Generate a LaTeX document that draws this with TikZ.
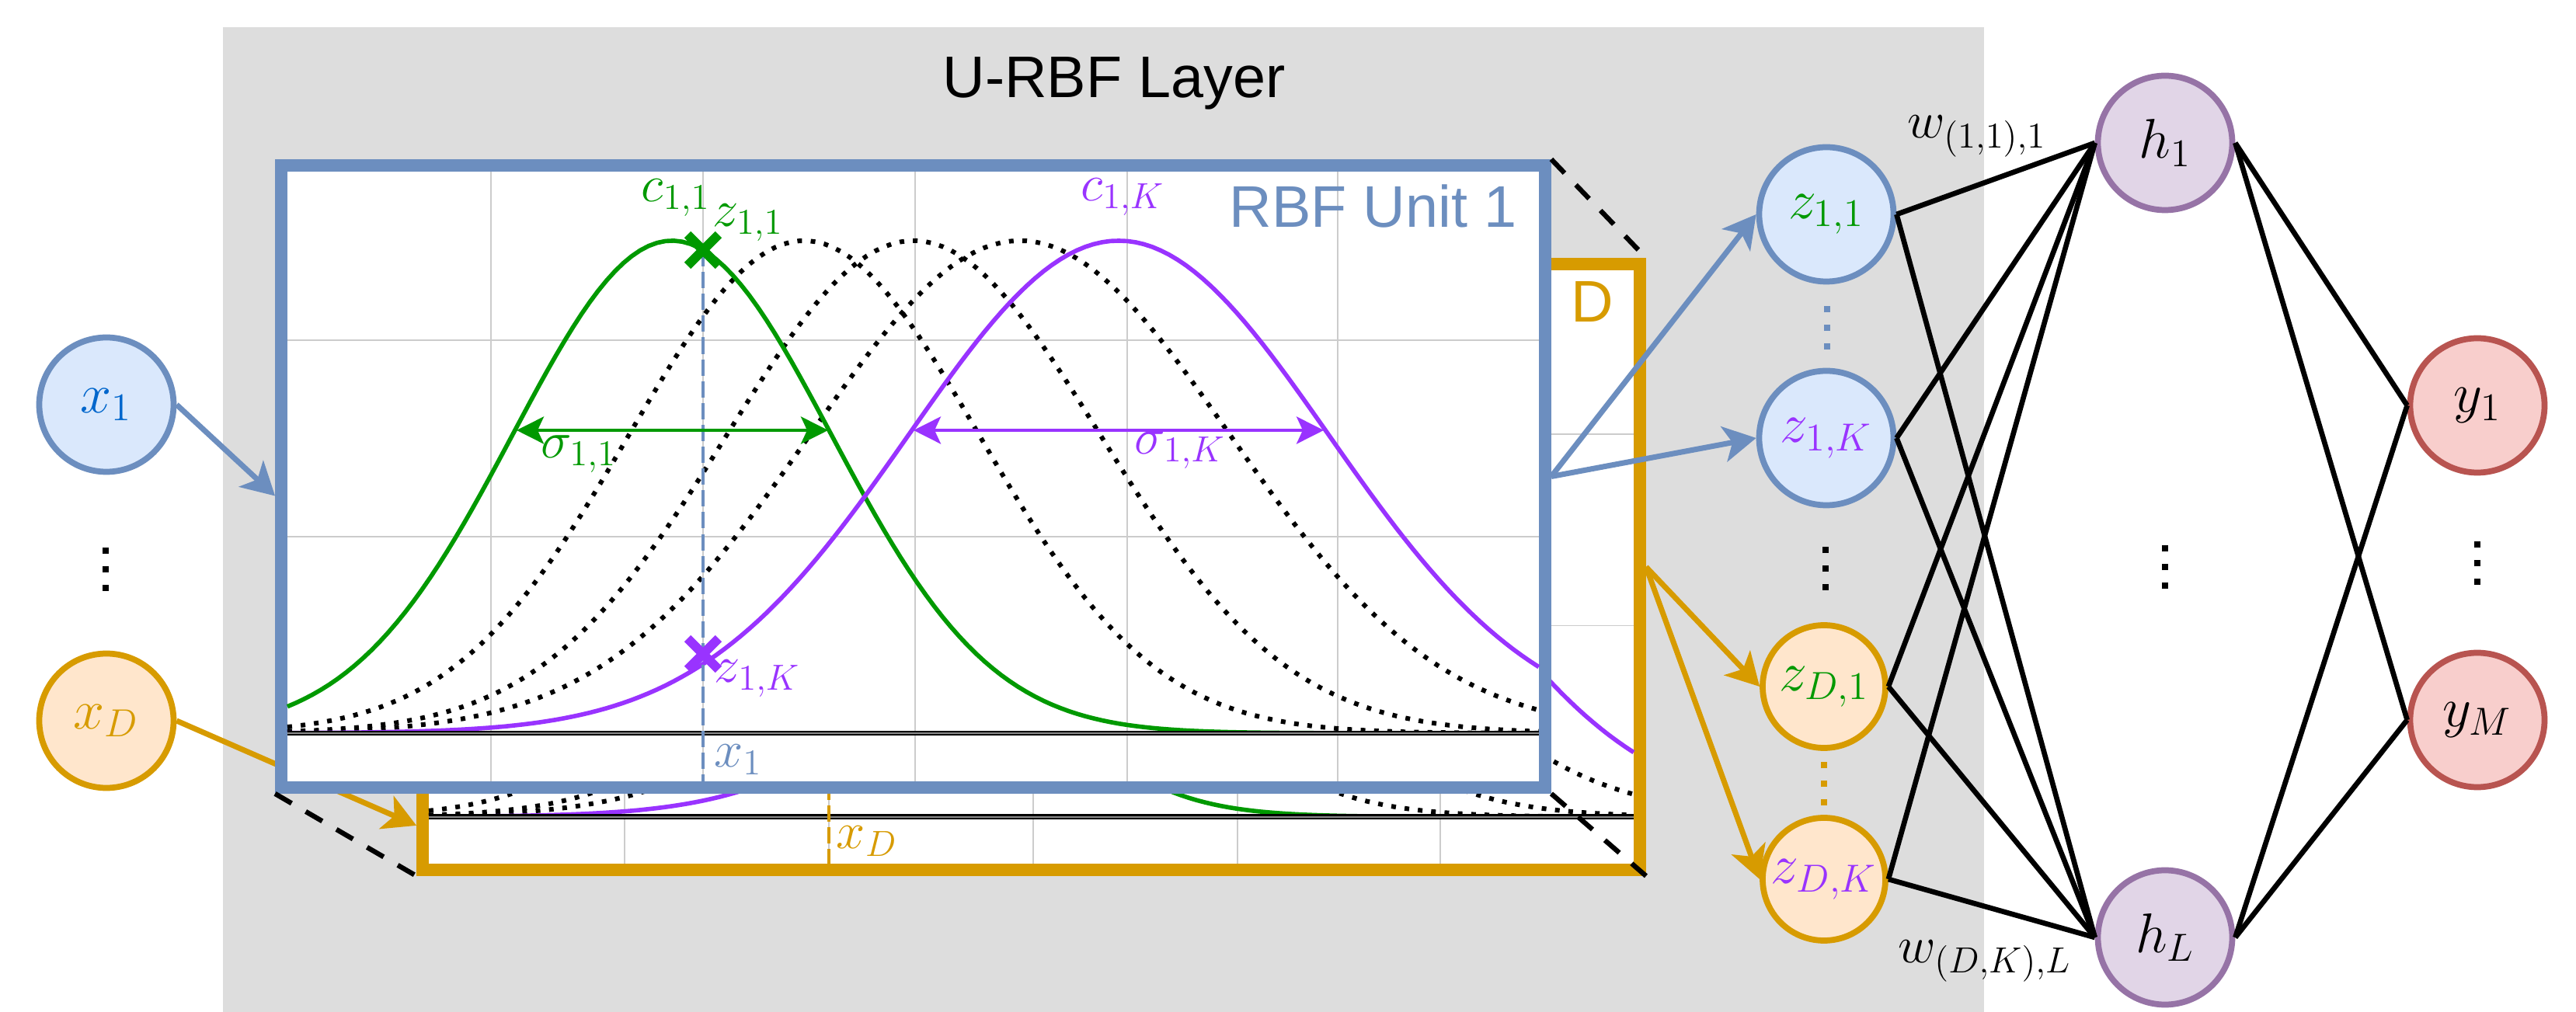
\RequirePackage{fix-cm}
\documentclass[tikz,border=0pt]{standalone}
\usepackage{fontspec}
\newfontfamily\arialfont{Liberation Sans}
\usepackage{tikz}
\usetikzlibrary{arrows.meta,positioning,shapes.misc}
\definecolor{greybg}{HTML}{DDDDDD}
\definecolor{unitblue}{HTML}{6C8EBF}
\definecolor{unitfill}{HTML}{DAE8FC}
\definecolor{dimorange}{HTML}{D79B00}
\definecolor{dimfill}{HTML}{FFE6CC}
\definecolor{hidpurple}{HTML}{9673A6}
\definecolor{hidfill}{HTML}{E1D5E7}
\definecolor{outred}{HTML}{B85450}
\definecolor{outfill}{HTML}{F8CECC}
\definecolor{cgreen}{HTML}{009900}
\definecolor{cpurple}{HTML}{9933FF}
\definecolor{xblue}{HTML}{0066CC}
\newcommand{\vdotsq}{\vbox{\offinterlineskip\hbox{\rule{2.3pt}{2.3pt}}\kern4.5pt\hbox{\rule{2.3pt}{2.3pt}}\kern4.5pt\hbox{\rule{2.3pt}{2.3pt}}}}
\newcommand{\rbfcurves}{%
  \foreach \gx in {6.32,9.05,11.78,14.51,17.22}
    \draw[gridline] (\gx,-2.21) -- (\gx,-10.06);
  \foreach \gy in {-4.38,-6.91}
    \draw[gridline] (3.70,\gy) -- (19.81,\gy);
  \foreach \cen/\wid in {10.35/2.25,11.76/2.4,13.13/2.7}
    \draw[dotcurve] plot[domain=3.70:19.81, samples=150] (\x, {-9.44+6.34*exp(-(\x-\cen)*(\x-\cen)/(2*\wid*\wid))});
  \draw[greencurve] plot[domain=3.70:19.81, samples=150] (\x, {-9.44+6.34*exp(-(\x-8.65)*(\x-8.65)/(2*2.05*2.05))});
  \draw[purplecurve] plot[domain=3.70:19.81, samples=150] (\x, {-9.44+6.34*exp(-(\x-14.40)*(\x-14.40)/(2*2.7*2.7))});
  \draw[axisline] (3.70,-9.44) -- (19.81,-9.44);
}
\begin{document}
\begin{tikzpicture}[
  font=\fontsize{20.5}{24}\selectfont,
  neuron/.style={circle, line width=2.2pt, minimum size=1.73cm, inner sep=0pt},
  inblue/.style={neuron, draw=unitblue, fill=unitfill},
  inorange/.style={neuron, draw=dimorange, fill=dimfill},
  zsmall/.style={inorange, minimum size=1.58cm},
  hidnode/.style={neuron, draw=hidpurple, fill=hidfill},
  outnode/.style={neuron, draw=outred, fill=outfill},
  dotsnode/.style={inner sep=0pt},
  unitframe/.style={draw=unitblue, line width=4.5pt, fill=white, minimum width=16.27cm, minimum height=8.01cm, inner sep=0pt},
  dimframe/.style={draw=dimorange, line width=4.5pt, fill=white, minimum width=15.67cm, minimum height=7.80cm, inner sep=0pt},
  sanslab/.style={font=\arialfont\fontsize{21.5}{26}\selectfont, inner sep=0pt},
  plotlab/.style={font=\fontsize{19}{22}\selectfont, inner sep=0pt},
  gridline/.style={line width=0.5pt, draw=black!20},
  dotcurve/.style={line width=1.7pt, dash pattern=on 1.7pt off 3.2pt},
  greencurve/.style={line width=1.6pt, draw=cgreen},
  purplecurve/.style={line width=1.6pt, draw=cpurple},
  axisline/.style={line width=0.6pt, draw=black, double=black!45, double distance=0.6pt},
  xdash/.style={line width=1.2pt, dash pattern=on 6pt off 2pt},
  cornerdash/.style={line width=1.8pt, dash pattern=on 7pt off 6pt},
  xmark/.style={cross out, line width=3.4pt, minimum size=0.28cm, inner sep=0pt},
  arr/.style={-{Stealth[length=0.42cm, width=0.46cm, inset=0.11cm]}, line width=2pt},
  sigmaarr/.style={{Stealth[length=0.35cm, width=0.35cm, inset=0.08cm]}-{Stealth[length=0.35cm, width=0.35cm, inset=0.08cm]}, line width=1.3pt},
  link/.style={line width=1.9pt, draw=black},
]
\useasboundingbox (0,0) rectangle (33.16,-13.03);
\fill[greybg] (2.87,-0.35) rectangle (25.54,-13.03);
\node[sanslab, anchor=base] (title) at (14.34,-1.26) {U-RBF Layer};

\node[inblue, text=xblue] (x1) at (1.37,-5.21) {$x_1$};
\node[dotsnode] (xdots) at (1.36,-7.33) {\vdotsq};
\node[inorange, text=dimorange] (xD) at (1.37,-9.28) {$x_D$};

\node[dimframe] (dframe) at (13.275,-7.30) {};
\begin{scope}[x={(0.9628cm,0cm)}, y={(0cm,0.9732cm)}, shift={(1.9576cm,-1.3292cm)}]
  \rbfcurves
  \draw[xdash, draw=dimorange] (9.05,-3.22) -- (9.05,-10.06);
\end{scope}
\node[plotlab, text=dimorange] (xDlab) at (11.16,-10.83) {$x_D$};
\node[sanslab, text=dimorange, anchor=base west] (dlab) at (20.22,-4.15) {D};
\draw[arr, draw=dimorange, fill=dimorange] (xD.east) -- ([yshift=0.65cm]dframe.south west);

\node[unitframe] (unit1) at (11.755,-6.135) {};
\rbfcurves
\draw[xdash, draw=unitblue] (9.05,-3.22) -- (9.05,-10.06);
\node[xmark, draw=cgreen] (z11mark) at (9.05,-3.22) {};
\node[xmark, draw=cpurple] (z1Kmark) at (9.05,-8.42) {};
\draw[sigmaarr, draw=cgreen, fill=cgreen] (6.65,-5.54) -- (10.66,-5.54);
\draw[sigmaarr, draw=cpurple, fill=cpurple] (11.76,-5.54) -- (17.04,-5.54);
\node[plotlab, text=cgreen] (c11lab) at (8.70,-2.55) {$c_{1,1}$};
\node[plotlab, text=cgreen] (z11lab) at (9.63,-2.87) {$z_{1,1}$};
\node[plotlab, text=cpurple] (c1Klab) at (14.45,-2.54) {$c_{1,K}$};
\node[plotlab, text=cgreen] (s11lab) at (7.45,-5.85) {$\sigma_{1,1}$};
\node[plotlab, text=cpurple] (s1Klab) at (15.19,-5.80) {$\sigma_{1,K}$};
\node[plotlab, text=cpurple] (z1Klab) at (9.75,-8.74) {$z_{1,K}$};
\node[plotlab, text=unitblue] (x1lab) at (9.50,-9.78) {$x_1$};
\node[sanslab, text=unitblue, anchor=base east] (unitlab) at (19.53,-2.93) {RBF Unit 1};

\draw[cornerdash] (unit1.north east) -- (dframe.north east);
\draw[cornerdash] (unit1.south west) -- (dframe.south west);
\draw[cornerdash] (unit1.south east) -- (dframe.south east);
\draw[arr, draw=unitblue, fill=unitblue] (x1.east) -- ([yshift=-0.25cm]unit1.west);

\node[inblue, text=cgreen] (z11) at (23.51,-2.76) {$z_{1,1}$};
\node[dotsnode, text=unitblue] (zdotsa) at (23.52,-4.22) {\vdotsq};
\node[inblue, text=cpurple] (z1K) at (23.51,-5.64) {$z_{1,K}$};
\node[dotsnode] (zdotsb) at (23.50,-7.32) {\vdotsq};
\node[zsmall, text=cgreen] (zD1) at (23.48,-8.84) {$z_{D,1}$};
\node[dotsnode, text=dimorange] (zdotsc) at (23.48,-10.09) {\vdotsq};
\node[zsmall, text=cpurple] (zDK) at (23.48,-11.32) {$z_{D,K}$};
\draw[arr, draw=unitblue, fill=unitblue] (unit1.east) -- (z11.west);
\draw[arr, draw=unitblue, fill=unitblue] (unit1.east) -- (z1K.west);
\draw[arr, draw=dimorange, fill=dimorange] (dframe.east) -- (zD1.west);
\draw[arr, draw=dimorange, fill=dimorange] (dframe.east) -- (zDK.west);

\node[hidnode] (h1) at (27.87,-1.84) {$h_1$};
\node[dotsnode] (hdots) at (27.87,-7.30) {\vdotsq};
\node[hidnode] (hL) at (27.87,-12.07) {$h_L$};
\node[outnode] (y1) at (31.89,-5.22) {$y_1$};
\node[dotsnode] (ydots) at (31.89,-7.25) {\vdotsq};
\node[outnode] (yM) at (31.89,-9.27) {$y_M$};

\foreach \z in {z11,z1K,zD1,zDK} {
  \draw[link] (\z.east) -- (h1.west);
  \draw[link] (\z.east) -- (hL.west);
}
\foreach \h in {h1,hL} {
  \draw[link] (\h.east) -- (y1.west);
  \draw[link] (\h.east) -- (yM.west);
}
\node[plotlab, anchor=base west] (wfirst) at (24.55,-1.78) {$w_{(1,1),1}$};
\node[plotlab, anchor=base west] (wlast) at (24.43,-12.40) {$w_{(D,K),L}$};
\end{tikzpicture}
\end{document}
